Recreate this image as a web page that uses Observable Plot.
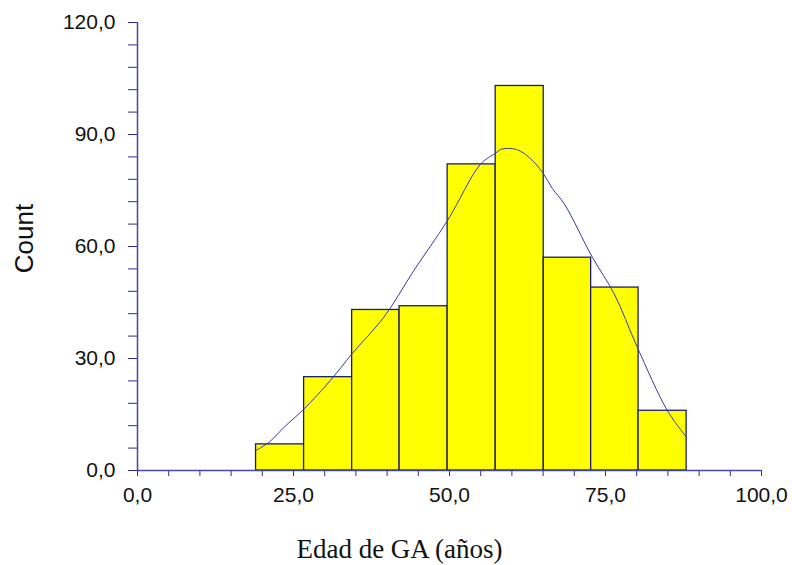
<!DOCTYPE html>
<html><head><meta charset="utf-8">
<script src="https://cdn.jsdelivr.net/npm/d3@7"></script>
<script src="https://cdn.jsdelivr.net/npm/@observablehq/plot@0.6"></script>
<style>body{margin:0;background:#fff}</style>
</head><body><div id="chart"></div>
<script>
const binStart = [19.0, 26.7, 34.4, 42.0, 49.7, 57.4, 65.1, 72.7, 80.3];
const binEnd   = [26.7, 34.4, 42.0, 49.7, 57.4, 65.1, 72.7, 80.3, 88.0];
const counts   = [7, 25, 43, 44, 82, 103, 57, 49, 16];
const curveX = [19.0, 21.1, 23.5, 26.7, 30.9, 34.4, 39.5, 44.3, 49.7, 55.0, 57.4, 58.2, 60.1, 61.4, 63.0, 64.9, 66.5, 68.4, 72.9, 76.4, 80.1, 84.9, 87.9];
const curveY = [5.4, 7.6, 11.6, 16.5, 24.1, 31.3, 41.1, 53.6, 67.0, 82.1, 85.0, 86.0, 86.2, 85.5, 83.5, 79.9, 75.5, 71.4, 57.1, 47.3, 33.0, 16.1, 9.1];
const xMajorTicks = [0, 25, 50, 75, 100];
const xMinorTicks = [5, 10, 15, 20, 30, 35, 40, 45, 55, 60, 65, 70, 80, 85, 90, 95];
const yMajorTicks = [0, 30, 60, 90, 120];
const yMinorTicks = [6, 12, 18, 24, 36, 42, 48, 54, 66, 72, 78, 84, 96, 102, 108, 114];
const xTitle = "Edad de GA (años)";
const yTitle = "Count";

const fmt = d => d3.format(".1f")(d).replace(".", ",");
const bars = counts.map((c, i) => ({x1: binStart[i], x2: binEnd[i], y: c}));
const curve = curveX.map((x, i) => ({x, y: curveY[i]}));
const axisColor = "#4646a6";
const tickColor = "#2a2a96";

const plot = Plot.plot({
  width: 792, height: 565,
  marginLeft: 137, marginRight: 31, marginTop: 22, marginBottom: 95,
  x: {domain: [0, 100]},
  y: {domain: [0, 120]},
  style: {fontFamily: "'Liberation Sans', Arial, sans-serif", fontSize: "21px", color: "#000", background: "#fff"},
  marks: [
    Plot.rectY(bars, {x1: "x1", x2: "x2", y: "y", fill: "#ffff00", stroke: "#1c1c78", strokeWidth: 1.3}),
    Plot.line(curve, {x: "x", y: "y", stroke: "#3a3aa0", strokeWidth: 1, curve: "catmull-rom"}),
    Plot.axisX({ticks: [...xMajorTicks, ...xMinorTicks], tickSize: 6, tickPadding: 11, stroke: tickColor, fill: "#111",
      tickFormat: d => xMajorTicks.includes(d) ? fmt(d) : "", label: null}),
    Plot.axisY({ticks: [...yMajorTicks, ...yMinorTicks], tickSize: 9, tickPadding: 13, stroke: tickColor, fill: "#111",
      tickFormat: d => yMajorTicks.includes(d) ? fmt(d) : "", label: null}),
    Plot.ruleY([0], {stroke: axisColor, strokeWidth: 1.5}),
    Plot.ruleX([0], {stroke: axisColor, strokeWidth: 1.5}),
    Plot.text([yTitle], {frameAnchor: "left", dx: -113, dy: -8, rotate: -90, textAnchor: "middle", lineAnchor: "middle",
      fontSize: 26, fill: "#111"}),
    Plot.text([xTitle], {frameAnchor: "bottom", dx: -50, dy: 79, textAnchor: "middle", lineAnchor: "middle",
      fontSize: 27, fill: "#111", fontFamily: "'Liberation Serif', 'Times New Roman', serif"})
  ]
});
document.getElementById("chart").append(plot);
</script>
</body></html>
